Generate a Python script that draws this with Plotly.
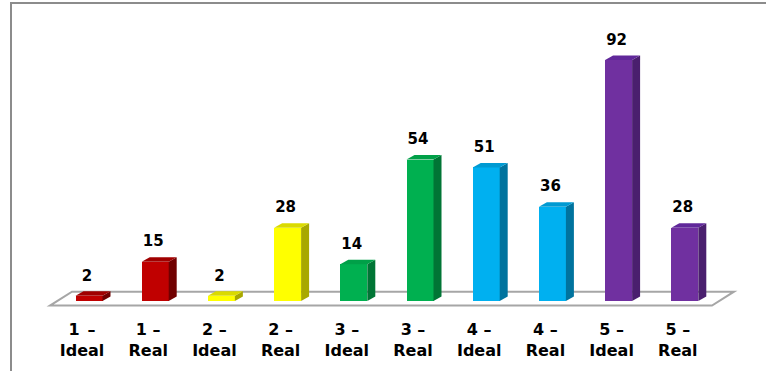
import plotly.graph_objects as go

categories = ["1\u2002\u2013<br>Ideal", "1 \u2013<br>Real", "2 \u2013<br>Ideal", "2 \u2013<br>Real",
              "3 \u2013<br>Ideal", "3 \u2013<br>Real", "4 \u2013<br>Ideal", "4 \u2013<br>Real",
              "5 \u2013<br>Ideal", "5 \u2013<br>Real"]
values = [2, 15, 2, 28, 14, 54, 51, 36, 92, 28]
front_colors = ["#C00000", "#C00000", "#FFFF00", "#FFFF00", "#00B050", "#00B050",
                "#00B0F0", "#00B0F0", "#7030A0", "#7030A0"]
top_colors = ["#A00000", "#A00000", "#DADA00", "#DADA00", "#00A048", "#00A048",
              "#009AD2", "#009AD2", "#60289A", "#60289A"]
side_colors = ["#700000", "#700000", "#A8A800", "#A8A800", "#007535", "#007535",
               "#00739E", "#00739E", "#4A1F6E", "#4A1F6E"]

# geometry (pixels -> data units)
PX_X = 66.2          # px per category
PX_Y = 2.62          # px per value unit
ML, PW = 40, 710
MT, PB = 20, 315
x0_range = -(82 - ML) / PX_X
x1_range = x0_range + PW / PX_X
y_top = (301 - MT) / PX_Y
y_bot = (301 - PB) / PX_Y

bar_off = 7 / PX_X
bar_w = 27 / PX_X
dx = 8 / PX_X
dy = 4.5 / PX_Y

fig = go.Figure()

# floor (as a shape below traces)
fx0, fx1 = (50 - 82) / PX_X, (712 - 82) / PX_X
fdx = 22 / PX_X
fy0, fy1 = (301 - 305.6) / PX_Y, (301 - 291.7) / PX_Y
floor_path = (f"M {fx0},{fy0} L {fx1},{fy0} L {fx1 + fdx},{fy1} "
              f"L {fx0 + fdx},{fy1} Z")

xs = list(range(len(values)))
fig.add_trace(go.Bar(
    x=[i + bar_off for i in xs], y=values, width=bar_w,
    marker=dict(color=front_colors, line=dict(width=0)),
    showlegend=False, hoverinfo="skip"))

for i, v in enumerate(values):
    xl = i + bar_off - bar_w / 2
    xr = i + bar_off + bar_w / 2
    # side
    fig.add_trace(go.Scatter(
        x=[xr, xr + dx, xr + dx, xr, xr], y=[0, dy, v + dy, v, 0],
        mode="lines", fill="toself", fillcolor=side_colors[i],
        line=dict(width=0, color=side_colors[i]), hoverinfo="skip", showlegend=False))
    # top
    fig.add_trace(go.Scatter(
        x=[xl, xl + dx, xr + dx, xr, xl], y=[v, v + dy, v + dy, v, v],
        mode="lines", fill="toself", fillcolor=top_colors[i],
        line=dict(width=0, color=top_colors[i]), hoverinfo="skip", showlegend=False))

fig.add_trace(go.Scatter(
    x=[i + bar_off - 2 / PX_X for i in xs], y=[v + dy + 7 / PX_Y for v in values],
    mode="text", text=[str(v) for v in values], textposition="top center",
    textfont=dict(family="DejaVu Sans", size=15, color="black", weight="bold"),
    hoverinfo="skip", showlegend=False))

fig.update_layout(
    width=766, height=371,
    margin=dict(l=ML, r=766 - ML - PW, t=MT, b=371 - PB),
    plot_bgcolor="white", paper_bgcolor="white",
    bargap=0,
    xaxis=dict(range=[x0_range, x1_range], tickvals=xs, ticktext=categories,
               showgrid=False, zeroline=False, showline=False, ticks="",
               ticklabelstandoff=3,
               tickfont=dict(family="DejaVu Sans", size=16, color="black", weight="bold")),
    yaxis=dict(range=[y_bot, y_top], visible=False, showgrid=False, zeroline=False),
    shapes=[
        dict(type="path", xref="x", yref="y", path=floor_path,
             line=dict(color="#A6A6A6", width=2), fillcolor="white", layer="below"),
        dict(type="rect", xref="paper", yref="paper",
             x0=(11 - ML) / PW, x1=(820 - ML) / PW,
             y0=(PB - 420) / (PB - MT), y1=(PB - 3) / (PB - MT),
             line=dict(color="#8C8C8C", width=2), fillcolor="rgba(0,0,0,0)", layer="below"),
    ],
)

fig.write_html("out.html")
